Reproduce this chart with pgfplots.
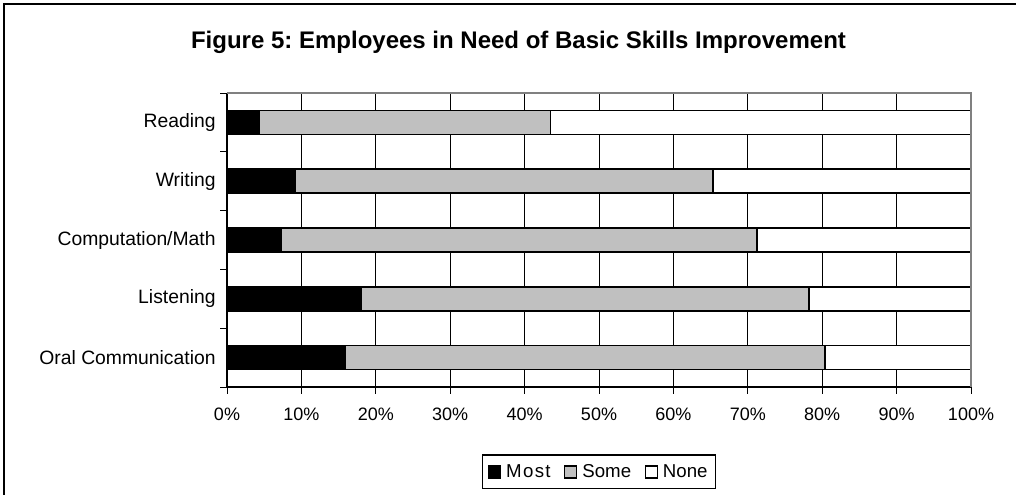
\documentclass[border=0pt]{standalone}
\usepackage{pgfplots}
\pgfplotsset{compat=1.18}
\usepackage{pgfplotstable}
\usepackage{fontspec}
\setmainfont{Liberation Sans}
\frenchspacing
\definecolor{barGray}{HTML}{C0C0C0}
\definecolor{frameGray}{HTML}{808080}
\pgfplotsset{sqlegend/.style={legend image code/.code={\draw[##1, line width=0.8pt] (0pt,-4.5pt) rectangle (9pt,4.5pt);}}}
\pgfplotstableread{
cat most some none
4 4.3 39.2 56.5
3 9.2 56.1 34.7
2 7.3 63.9 28.8
1 18.0 60.2 21.8
0 15.9 64.5 19.6
}\data
\begin{document}
\begin{tikzpicture}[x=0.75pt,y=-0.75pt]
\useasboundingbox (0,0) rectangle (1016,495);
\draw[line width=1.6pt] (4,496) -- (4,4) -- (1017,4);
\node[font=\bfseries\fontsize{18}{20}\selectfont, anchor=base] at (518.5,49) {Figure 5: Employees in Need of Basic Skills Improvement};
\begin{axis}[
  at={(170.25pt,-290.25pt)}, anchor=south west,
  scale only axis, width=558pt, height=220.5pt,
  xbar stacked, bar width=18pt,
  xmin=0, xmax=100, ymin=-0.5, ymax=4.5,
  axis x line*=bottom, axis y line*=left,
  axis line style={black, line width=1pt},
  xtick={0,10,...,100},
  xticklabel={\pgfmathprintnumber{\tick}\%},
  /pgf/number format/assume math mode=true,
  ytick={-0.5,0.5,1.5,2.5,3.5,4.5},
  yticklabels={Oral Communication,Listening,Computation/Math,Writing,Reading,{}},
  yticklabel style={yshift=22.05pt, font=\fontsize{14.5}{16}\selectfont},
  xticklabel style={yshift=-7pt, font=\fontsize{13.5}{16}\selectfont},
  tick align=outside, major tick length=5pt,
  tick style={black, line width=0.75pt},
  xmajorgrids, major grid style={black, line width=0.75pt},
  legend style={at={(0.5,-0.289)}, anchor=center, legend columns=3,
    draw=black, line width=1pt, font=\fontsize{14}{16}\selectfont,
    inner xsep=4pt, inner ysep=5pt,
    /tikz/every odd column/.append style={column sep=2pt},
    /tikz/every even column/.append style={column sep=8pt}},
  legend cell align=left,
]
\addplot[fill=black, draw=black, line width=1.2pt, sqlegend]
  table[x=most, y=cat]{\data};
\addplot[fill=barGray, draw=black, line width=1.2pt, sqlegend]
  table[x=some, y=cat]{\data};
\addplot[fill=white, draw=black, line width=1.2pt, sqlegend]
  table[x=none, y=cat]{\data};
\legend{M\kern1pt o\kern1pt s\kern1pt t,Some,None}
\end{axis}
\draw[frameGray, line width=1.5pt] (current axis.north west) -- (current axis.north east) -- (current axis.south east);
\end{tikzpicture}
\end{document}
